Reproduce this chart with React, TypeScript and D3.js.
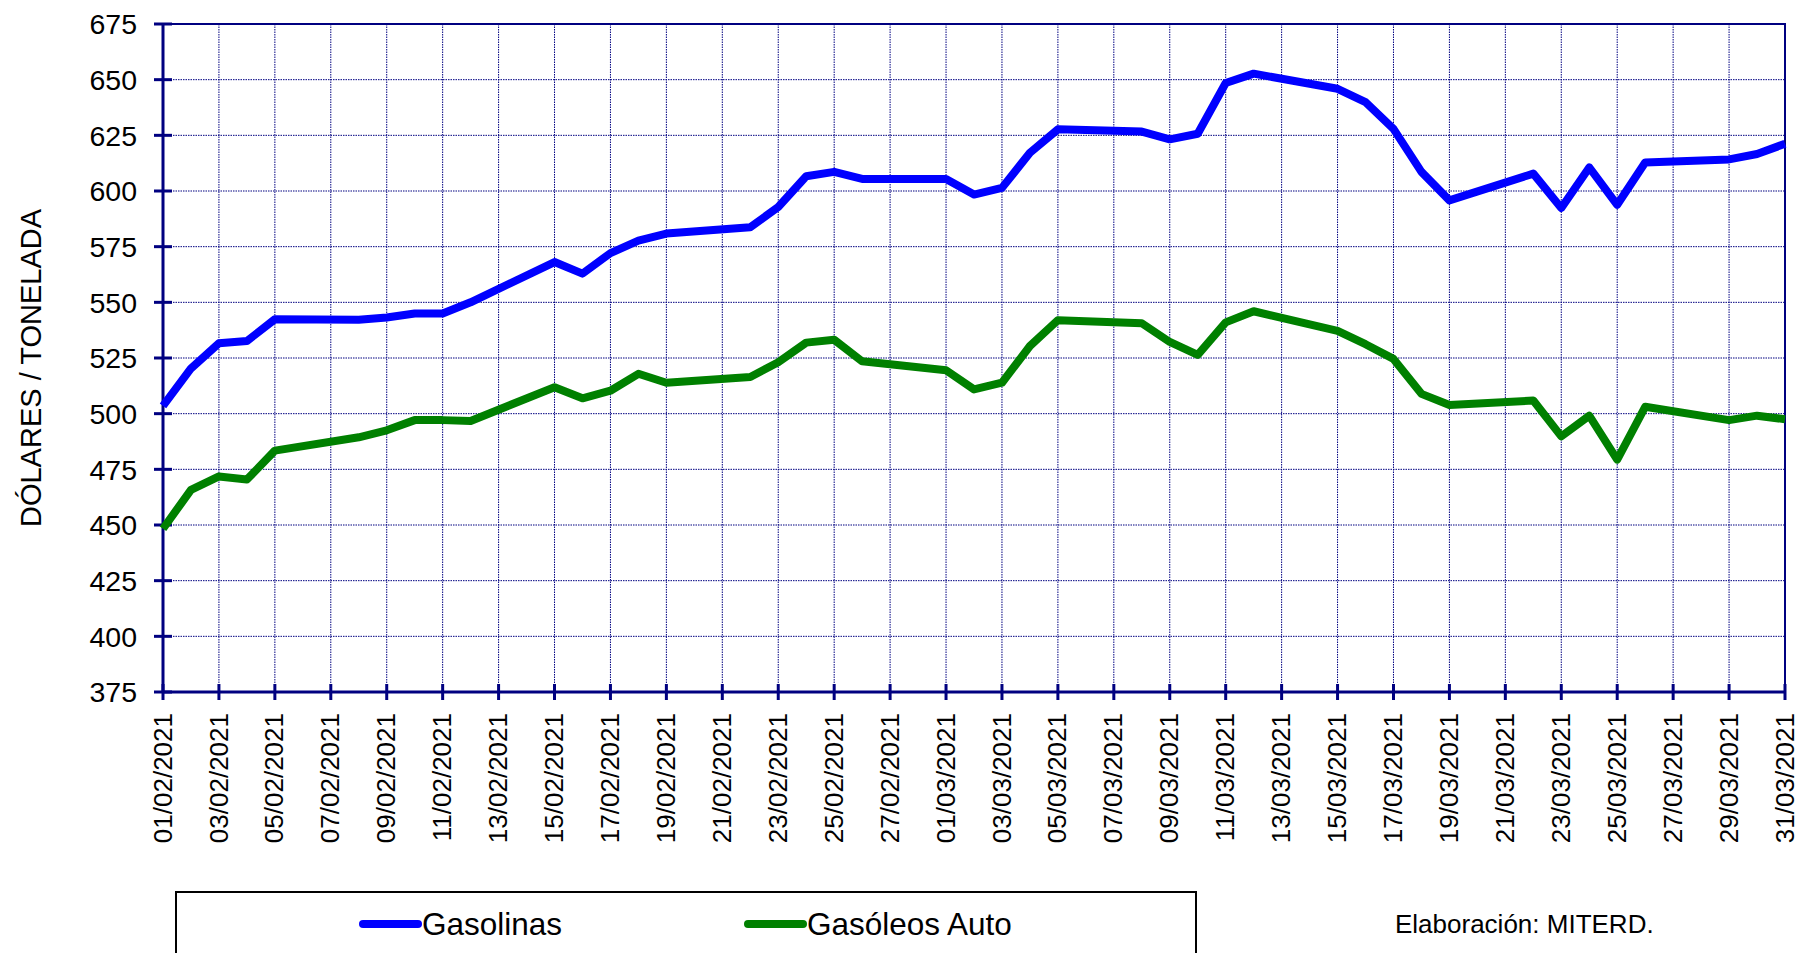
import React from 'react';
import * as d3 from 'd3';

const fechas = [
  '01/02/2021', '02/02/2021', '03/02/2021', '04/02/2021', '05/02/2021',
  '08/02/2021', '09/02/2021', '10/02/2021', '11/02/2021', '12/02/2021',
  '15/02/2021', '16/02/2021', '17/02/2021', '18/02/2021', '19/02/2021',
  '22/02/2021', '23/02/2021', '24/02/2021', '25/02/2021', '26/02/2021',
  '01/03/2021', '02/03/2021', '03/03/2021', '04/03/2021', '05/03/2021',
  '08/03/2021', '09/03/2021', '10/03/2021', '11/03/2021', '12/03/2021',
  '15/03/2021', '16/03/2021', '17/03/2021', '18/03/2021', '19/03/2021',
  '22/03/2021', '23/03/2021', '24/03/2021', '25/03/2021', '26/03/2021',
  '29/03/2021', '30/03/2021', '31/03/2021',
];

const gasolinas = [
  503.5, 520.3, 531.6, 532.6, 542.4,
  542.2, 543.2, 545.0, 545.0, 550.0,
  568.1, 562.9, 572.1, 577.7, 580.9,
  583.7, 592.8, 606.6, 608.6, 605.4,
  605.4, 598.4, 601.4, 617.2, 627.7,
  626.7, 623.2, 625.7, 648.5, 652.7,
  645.9, 639.9, 627.9, 608.6, 595.8,
  607.8, 592.4, 610.6, 593.8, 612.8,
  614.2, 616.6, 621.2,
];

const gasoleos = [
  448.3, 465.8, 471.8, 470.4, 483.4,
  489.4, 492.5, 497.1, 497.1, 496.7,
  511.9, 506.9, 510.3, 517.9, 513.9,
  516.5, 523.1, 531.9, 533.2, 523.5,
  519.5, 510.9, 513.9, 530.4, 542.0,
  540.6, 532.2, 526.4, 541.0, 546.0,
  537.2, 531.2, 524.6, 508.9, 503.9,
  505.9, 489.8, 499.1, 479.4, 503.1,
  497.1, 499.1, 497.5,
];

const yTicks = [375, 400, 425, 450, 475, 500, 525, 550, 575, 600, 625, 650, 675];

const series = [
  {name: 'Gasolinas', values: gasolinas, color: '#0000FF'},
  {name: 'Gasóleos Auto', values: gasoleos, color: '#008000'},
];

const W = 1801;
const H = 953;
const left = 163;
const right = 1785;
const top = 24;
const bottom = 692;
const navy = '#000080';
const font = '"Liberation Sans", Arial, sans-serif';

export default function App() {
  const parse = d3.utcParse('%d/%m/%Y');
  const fmt = d3.utcFormat('%d/%m/%Y');
  const dates = fechas.map(f => parse(f) as Date);

  const x = d3.scaleUtc().domain([dates[0], dates[dates.length - 1]]).range([left, right]);
  const y = d3.scaleLinear().domain([375, 675]).range([bottom, top]);
  const xTicks = x.ticks(d3.utcDay.every(2) as any);

  const line = d3
    .line<number>()
    .x((_, i) => x(dates[i]))
    .y(v => y(v));

  return (
    <svg
      width={W}
      height={H}
      style={{position: 'absolute', left: 0, top: 0, background: '#fff'}}
      fontFamily={font}>
      {/* grid */}
      {yTicks.slice(1, -1).map(t => (
        <line
          key={'gy' + t}
          x1={left}
          x2={right}
          y1={y(t)}
          y2={y(t)}
          stroke={navy}
          strokeWidth={1}
          strokeDasharray="1.5 1"
        />
      ))}
      {xTicks.slice(1, -1).map((t, i) => (
        <line
          key={'gx' + i}
          x1={x(t)}
          x2={x(t)}
          y1={top}
          y2={bottom}
          stroke={navy}
          strokeWidth={1}
          strokeDasharray="1.5 1"
        />
      ))}

      {/* plot border + axes */}
      <rect x={left} y={top} width={right - left} height={bottom - top} fill="none" stroke={navy} strokeWidth={2} />
      <line x1={left} x2={left} y1={top} y2={bottom} stroke={navy} strokeWidth={3} />
      <line x1={left} x2={right} y1={bottom} y2={bottom} stroke={navy} strokeWidth={3} />

      {yTicks.map(t => (
        <g key={'ty' + t}>
          <line x1={left - 9} x2={left + 9} y1={y(t)} y2={y(t)} stroke={navy} strokeWidth={3} />
          <text x={137} y={y(t)} dy="0.36em" textAnchor="end" fontSize={28.5} fill="#000">
            {t}
          </text>
        </g>
      ))}

      {xTicks.map((t, i) => (
        <g key={'tx' + i}>
          <line x1={x(t)} x2={x(t)} y1={bottom - 8} y2={bottom + 8} stroke={navy} strokeWidth={3} />
          <text
            transform={`translate(${x(t)},713) rotate(-90)`}
            dy="0.33em"
            textAnchor="end"
            fontSize={26}
            fill="#000">
            {fmt(t)}
          </text>
        </g>
      ))}

      <text transform="translate(41,368) rotate(-90)" textAnchor="middle" fontSize={29} fill="#000">
        DÓLARES / TONELADA
      </text>

      {/* series */}
      {series.map(s => (
        <path
          key={s.name}
          d={line(s.values) || ''}
          fill="none"
          stroke={s.color}
          strokeWidth={8}
          strokeLinejoin="round"
        />
      ))}

      {/* legend */}
      <rect x={176} y={892} width={1020} height={80} fill="#fff" stroke="#000" strokeWidth={2} />
      {series.map((s, i) => {
        const lx = i === 0 ? 363 : 748;
        return (
          <g key={'lg' + s.name}>
            <line x1={lx} x2={lx + 55} y1={924} y2={924} stroke={s.color} strokeWidth={8} strokeLinecap="round" />
            <text x={lx + 59} y={924} dy="0.36em" fontSize={31.5} fill="#000">
              {s.name}
            </text>
          </g>
        );
      })}

      <text x={1395} y={924} dy="0.36em" fontSize={26} fill="#000">
        Elaboración: MITERD.
      </text>
    </svg>
  );
}
